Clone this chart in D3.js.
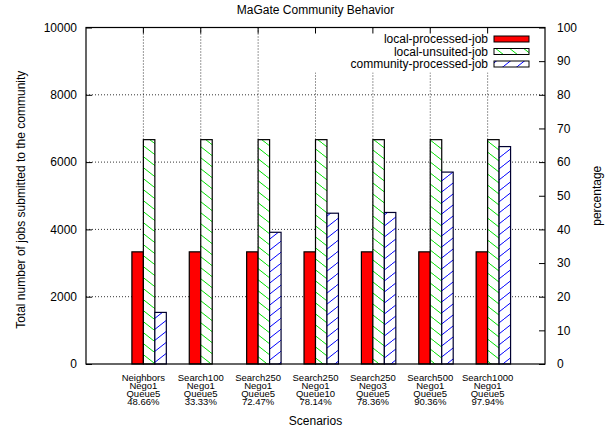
<!DOCTYPE html>
<html lang="en">
<head>
<meta charset="UTF-8">
<title>MaGate Community Behavior</title>
<script src="https://d3js.org/d3.v7.min.js"></script>
<style>
  body { margin: 0; background: #fff; }
  svg { font-family: "Liberation Sans", Arial, Helvetica, sans-serif; }
</style>
</head>
<body>
<div id="chart"></div>
<script>
// scenario labels (one entry per line of the tick label)
var scenarios = ["Neighbors", "Search100", "Search250", "Search250", "Search250", "Search500", "Search1000"];
var negoLabels = ["Nego1", "Nego1", "Nego1", "Nego1", "Nego3", "Nego1", "Nego1"];
var queueLabels = ["Queue5", "Queue5", "Queue5", "Queue10", "Queue5", "Queue5", "Queue5"];
var percentLabels = ["48.66%", "33.33%", "72.47%", "78.14%", "78.36%", "90.36%", "97.94%"];

var seriesNames = ["local-processed-job", "local-unsuited-job", "community-processed-job"];
var localProcessed = [3333, 3333, 3333, 3333, 3333, 3333, 3333];
var localUnsuited = [6667, 6667, 6667, 6667, 6667, 6667, 6667];
var communityProcessed = [1533, 0, 3914, 4481, 4503, 5703, 6461];

var yTicks = [0, 2000, 4000, 6000, 8000, 10000];
var y2Ticks = [0, 10, 20, 30, 40, 50, 60, 70, 80, 90, 100];

var width = 616, height = 430;
var pLeft = 86, pRight = 545, pTop = 27.5, pBottom = 364;

var svg = d3.select("#chart").append("svg")
    .attr("width", width)
    .attr("height", height);

var defs = svg.append("defs");
// hatch patterns like gnuplot's fill patterns
var pg = defs.append("pattern").attr("id", "hatchGreen")
    .attr("patternUnits", "userSpaceOnUse").attr("width", 14).attr("height", 11);
pg.append("rect").attr("width", 14).attr("height", 11).attr("fill", "#fff");
pg.append("path").attr("d", "M0,0L14,11M-14,0L0,11M14,0L28,11")
    .attr("stroke", "#00e000").attr("stroke-width", 1);

var pb = defs.append("pattern").attr("id", "hatchBlue")
    .attr("patternUnits", "userSpaceOnUse").attr("width", 14).attr("height", 11);
pb.append("rect").attr("width", 14).attr("height", 11).attr("fill", "#fff");
pb.append("path").attr("d", "M0,11L14,0M-14,11L0,0M14,11L28,0")
    .attr("stroke", "#0000ff").attr("stroke-width", 1);

var fills = ["#ff0000", "url(#hatchGreen)", "url(#hatchBlue)"];

var x = d3.scaleLinear().domain([-1, 7]).range([pLeft, pRight]);
var y = d3.scaleLinear().domain([0, 10000]).range([pBottom, pTop]);
var y2 = d3.scaleLinear().domain([0, 100]).range([pBottom, pTop]);

// grid
var grid = svg.append("g")
    .attr("stroke", "#000").attr("stroke-width", 0.8)
    .attr("stroke-dasharray", "1,2");
yTicks.slice(1, -1).forEach(function(t) {
    grid.append("line").attr("x1", pLeft).attr("x2", pRight)
        .attr("y1", y(t)).attr("y2", y(t));
});
scenarios.forEach(function(s, i) {
    grid.append("line").attr("x1", x(i)).attr("x2", x(i))
        .attr("y1", pTop).attr("y2", pBottom);
});

// bars
var series = [localProcessed, localUnsuited, communityProcessed];
var bw = x(0.2) - x(0);
series.forEach(function(vals, j) {
    svg.append("g").selectAll("rect")
        .data(vals)
        .join("rect")
        .attr("x", (d, i) => x(i - 0.2 + 0.2 * j))
        .attr("y", d => y(d))
        .attr("width", bw)
        .attr("height", d => pBottom - y(d))
        .attr("fill", fills[j])
        .attr("stroke", j == 2 ? "#000030" : "#000")
        .attr("stroke-width", 1.2);
});

// legend (opaque box)
svg.append("rect").attr("x", 300).attr("y", pTop + 1).attr("width", pRight - 301).attr("height", 44)
    .attr("fill", "#fff");
var legend = svg.append("g");
seriesNames.forEach(function(name, j) {
    var ly = 39 + j * 12.5;
    legend.append("text")
        .attr("x", 488).attr("y", ly).attr("dy", "0.35em")
        .attr("text-anchor", "end").attr("font-size", 12)
        .text(name);
    legend.append("rect")
        .attr("x", 494).attr("y", ly - 3).attr("width", 35).attr("height", 6)
        .attr("fill", fills[j]).attr("stroke", "#000").attr("stroke-width", 1);
});

// frame
svg.append("rect").attr("x", pLeft).attr("y", pTop)
    .attr("width", pRight - pLeft).attr("height", pBottom - pTop)
    .attr("fill", "none").attr("stroke", "#000").attr("stroke-width", 1.2);

// left axis
var yAxis = svg.append("g").attr("transform", `translate(${pLeft},0)`)
    .call(d3.axisLeft(y).tickValues(yTicks).tickSize(-6).tickPadding(9).tickFormat(d3.format("d")));
yAxis.select(".domain").remove();
yAxis.selectAll("text").attr("font-size", 12).attr("font-family", null);

// right axis
var y2Axis = svg.append("g").attr("transform", `translate(${pRight},0)`)
    .call(d3.axisRight(y2).tickValues(y2Ticks).tickSize(-6).tickPadding(12));
y2Axis.select(".domain").remove();
y2Axis.selectAll("text").attr("font-size", 12).attr("font-family", null);

// top ticks (mirror of x)
scenarios.forEach(function(s, i) {
    svg.append("line").attr("x1", x(i)).attr("x2", x(i))
        .attr("y1", pTop).attr("y2", pTop + 6).attr("stroke", "#000");
});

// x labels, four short lines each
scenarios.forEach(function(s, i) {
    var t = svg.append("text")
        .attr("text-anchor", "middle").attr("font-size", 9.5);
    [s, negoLabels[i], queueLabels[i], percentLabels[i]].forEach(function(line, k) {
        t.append("tspan").attr("x", x(i)).attr("y", 380.5 + k * 8.3).text(line);
    });
});

// titles
svg.append("text").attr("x", (pLeft + pRight) / 2).attr("y", 14)
    .attr("text-anchor", "middle").attr("font-size", 12)
    .text("MaGate Community Behavior");
svg.append("text").attr("x", (pLeft + pRight) / 2).attr("y", 425)
    .attr("text-anchor", "middle").attr("font-size", 12)
    .text("Scenarios");
svg.append("text")
    .attr("transform", `translate(25,${(pTop + pBottom) / 2 + 4}) rotate(-90)`)
    .attr("text-anchor", "middle").attr("font-size", 12)
    .text("Total number of jobs submitted to the community");
svg.append("text")
    .attr("transform", `translate(601,${(pTop + pBottom) / 2}) rotate(-90)`)
    .attr("text-anchor", "middle").attr("font-size", 12)
    .text("percentage");
</script>
</body>
</html>
